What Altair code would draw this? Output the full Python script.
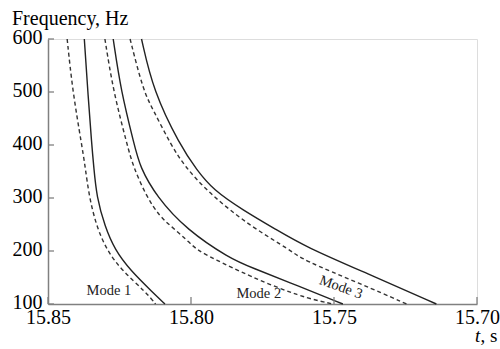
import altair as alt
import pandas as pd

# ---- data ----
m1_dash_t = [15.8433, 15.8414, 15.8382, 15.8370, 15.8356, 15.8330, 15.8295, 15.8243, 15.8155, 15.8124]
m1_dash_f = [600, 502, 400, 359, 302, 246, 202, 164, 121, 100]
m1_solid_t = [15.8373, 15.8361, 15.8347, 15.8340, 15.8330, 15.8301, 15.8266, 15.8213, 15.8132, 15.8091]
m1_solid_f = [600, 502, 400, 359, 302, 246, 202, 164, 121, 100]

m2_dash_t = [15.8301, 15.8272, 15.8223, 15.8202, 15.8155, 15.8109, 15.8068, 15.8015, 15.7980, 15.7922, 15.7794, 15.7620, 15.7504]
m2_dash_f = [600, 502, 400, 359, 302, 265, 246, 221, 202, 186, 152, 114, 100]
m2_solid_t = [15.8272, 15.8245, 15.8198, 15.8179, 15.8120, 15.8015, 15.7864, 15.7794, 15.7620, 15.7469]
m2_solid_f = [600, 502, 400, 359, 302, 240, 186, 170, 133, 100]

m3_dash_t = [15.8213, 15.8167, 15.8132, 15.8070, 15.8021, 15.7946, 15.7864, 15.7771, 15.7654, 15.7609, 15.7410, 15.7246]
m3_dash_f = [600, 502, 466, 400, 359, 315, 277, 240, 202, 183, 139, 100]
m3_solid_t = [15.8173, 15.8132, 15.8039, 15.7980, 15.7922, 15.7818, 15.7701, 15.7600, 15.7386, 15.7142]
m3_solid_f = [600, 502, 400, 353, 315, 277, 240, 208, 158, 100]

x_ticks = [15.85, 15.80, 15.75, 15.70]
y_ticks = [100, 200, 300, 400, 500, 600]

label_text = ["Mode 1", "Mode 2", "Mode 3"]
label_t = [15.8287, 15.7763, 15.7476]
label_f = [124, 118, 131]
label_angle = [0, 0, 20]

# ---- build tables ----
rows = []
for name, kind, ts, fs in [
    ("Mode 1", "dashed", m1_dash_t, m1_dash_f),
    ("Mode 1", "solid", m1_solid_t, m1_solid_f),
    ("Mode 2", "dashed", m2_dash_t, m2_dash_f),
    ("Mode 2", "solid", m2_solid_t, m2_solid_f),
    ("Mode 3", "dashed", m3_dash_t, m3_dash_f),
    ("Mode 3", "solid", m3_solid_t, m3_solid_f),
]:
    for t, f in zip(ts, fs):
        rows.append({"series": name + " " + kind, "kind": kind, "t": t, "f": f})
df = pd.DataFrame(rows)

labels = pd.DataFrame({"text": label_text, "t": label_t, "f": label_f, "angle": label_angle})
xt = pd.DataFrame({"t": x_ticks})
yt = pd.DataFrame({"f": y_ticks})

W, H = 429, 265
FONT = "Liberation Serif"
AXC = "#808080"

xscale = alt.Scale(domain=[15.85, 15.70], nice=False, zero=False)
yscale = alt.Scale(domain=[100, 600], nice=False, zero=False)

xaxis = alt.Axis(values=x_ticks, format=".2f", ticks=False, grid=False, title=None,
                 labelFont=FONT, labelFontSize=20, labelColor="black", labelPadding=3,
                 domainColor=AXC, domainWidth=1.5, labelFlush=False, labelOverlap=False)
yaxis = alt.Axis(values=y_ticks, format="d", ticks=False, grid=False, title=None,
                 labelFont=FONT, labelFontSize=20, labelColor="black", labelPadding=6,
                 labelOffset=-2,
                 domainColor=AXC, domainWidth=1.5, labelFlush=False, labelOverlap=False)

base = alt.Chart(df).encode(
    x=alt.X("t:Q", scale=xscale, axis=xaxis),
    y=alt.Y("f:Q", scale=yscale, axis=yaxis),
    detail="series:N",
    order=alt.Order("f:Q", sort="descending"),
)

solid = base.transform_filter(alt.datum.kind == "solid").mark_line(
    color="#222222", strokeWidth=1.4, interpolate="basis")
dashed = base.transform_filter(alt.datum.kind == "dashed").mark_line(
    color="#333333", strokeWidth=1.4, strokeDash=[4, 3], interpolate="basis")

xtick_rules = alt.Chart(xt).mark_rule(color=AXC, strokeWidth=1.3).encode(
    x=alt.X("t:Q", scale=xscale), y=alt.value(H), y2=alt.value(H - 7))
ytick_rules = alt.Chart(yt).mark_rule(color=AXC, strokeWidth=1.3).encode(
    y=alt.Y("f:Q", scale=yscale), x=alt.value(0), x2=alt.value(6))

mode_labels = alt.Chart(labels).mark_text(
    font=FONT, fontSize=14.5, color="#222222", align="center", baseline="middle").encode(
    x=alt.X("t:Q", scale=xscale), y=alt.Y("f:Q", scale=yscale),
    text="text:N", angle=alt.Angle("angle:Q", scale=None))

ytitle = alt.Chart(pd.DataFrame({"s": ["Frequency, Hz"]})).mark_text(
    font=FONT, fontSize=20, color="black", align="left", baseline="alphabetic").encode(
    text="s:N", x=alt.value(-36), y=alt.value(-14))

t_it = alt.Chart(pd.DataFrame({"s": ["t"]})).mark_text(
    font=FONT, fontSize=19, fontStyle="italic", color="black", align="left", baseline="alphabetic").encode(
    text="s:N", x=alt.value(427), y=alt.value(303))
t_s = alt.Chart(pd.DataFrame({"s": [", s"]})).mark_text(
    font=FONT, fontSize=19, color="black", align="left", baseline="alphabetic").encode(
    text="s:N", x=alt.value(432.5), y=alt.value(303))

chart = alt.layer(dashed, solid, xtick_rules, ytick_rules, mode_labels, ytitle, t_it, t_s).properties(
    width=W, height=H,
    autosize=alt.AutoSizeParams(type="none"),
    padding={"left": 48, "top": 39, "right": 23, "bottom": 45},
).configure_view(stroke=None).configure(background="white")

chart.save("out.html", embed_options={"renderer": "svg", "actions": False})
